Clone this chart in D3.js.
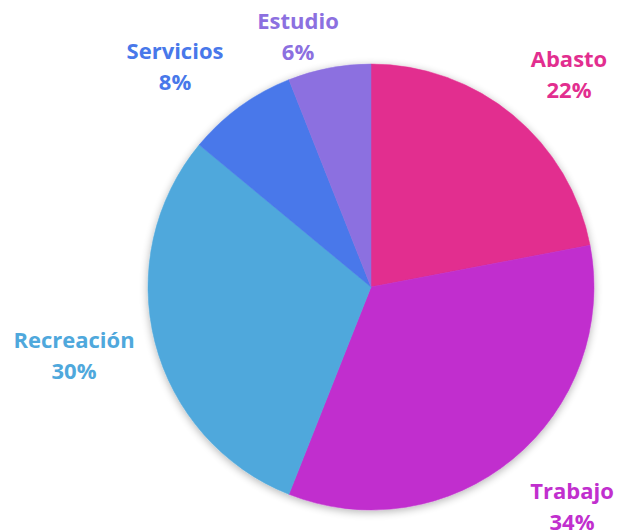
<!DOCTYPE html>
<html>
<head>
<meta charset="utf-8">
<script src="https://cdn.jsdelivr.net/npm/d3@7"></script>
<style>
  body { margin: 0; background: #fff; }
  text { font-family: "Open Sans", sans-serif; font-weight: bold; }
</style>
</head>
<body>
<div id="chart"></div>
<script>
var categories = ["Abasto", "Trabajo", "Recreación", "Servicios", "Estudio"];
var values = [22, 34, 30, 8, 6];
var colors = ["#e22e8f", "#c12fce", "#4fa8dc", "#4878ea", "#8c70e0"];

// label placement (pixel center of each label block)
var labelPos = [[569, 67], [572, 499], [74, 348], [175, 59], [298, 29]];

var width = 618, height = 531;
var cx = 371, cy = 287, radius = 223;

var svg = d3.select("#chart").append("svg")
  .attr("width", width)
  .attr("height", height);

var defs = svg.append("defs");
var shadow = defs.append("filter").attr("id", "shadow")
  .attr("x", "-20%").attr("y", "-20%").attr("width", "140%").attr("height", "140%");
shadow.append("feGaussianBlur").attr("in", "SourceAlpha").attr("stdDeviation", 4);
shadow.append("feOffset").attr("dx", 0).attr("dy", 2).attr("result", "b");
shadow.append("feComponentTransfer").append("feFuncA").attr("type", "linear").attr("slope", 0.3);
var merge = shadow.append("feMerge");
merge.append("feMergeNode");
merge.append("feMergeNode").attr("in", "SourceGraphic");

var data = categories.map(function(c, i) { return { name: c, value: values[i], color: colors[i] }; });

var pie = d3.pie().sort(null).value(function(d) { return d.value; });
var arc = d3.arc().innerRadius(0).outerRadius(radius);

var g = svg.append("g")
  .attr("transform", "translate(" + cx + "," + cy + ")")
  .attr("filter", "url(#shadow)");

g.selectAll("path").data(pie(data)).enter().append("path")
  .attr("d", arc)
  .attr("fill", function(d) { return d.data.color; })
  .attr("stroke", function(d) { return d.data.color; })
  .attr("stroke-width", 0.5);

var labels = svg.selectAll("text.lbl").data(data).enter().append("text")
  .attr("class", "lbl")
  .attr("text-anchor", "middle")
  .attr("font-size", "22px")
  .attr("fill", function(d) { return d.color; });

labels.append("tspan")
  .attr("x", function(d, i) { return labelPos[i][0]; })
  .attr("y", function(d, i) { return labelPos[i][1]; })
  .text(function(d) { return d.name; });
labels.append("tspan")
  .attr("x", function(d, i) { return labelPos[i][0]; })
  .attr("y", function(d, i) { return labelPos[i][1] + 31; })
  .text(function(d) { return d.value + "%"; });
</script>
</body>
</html>
